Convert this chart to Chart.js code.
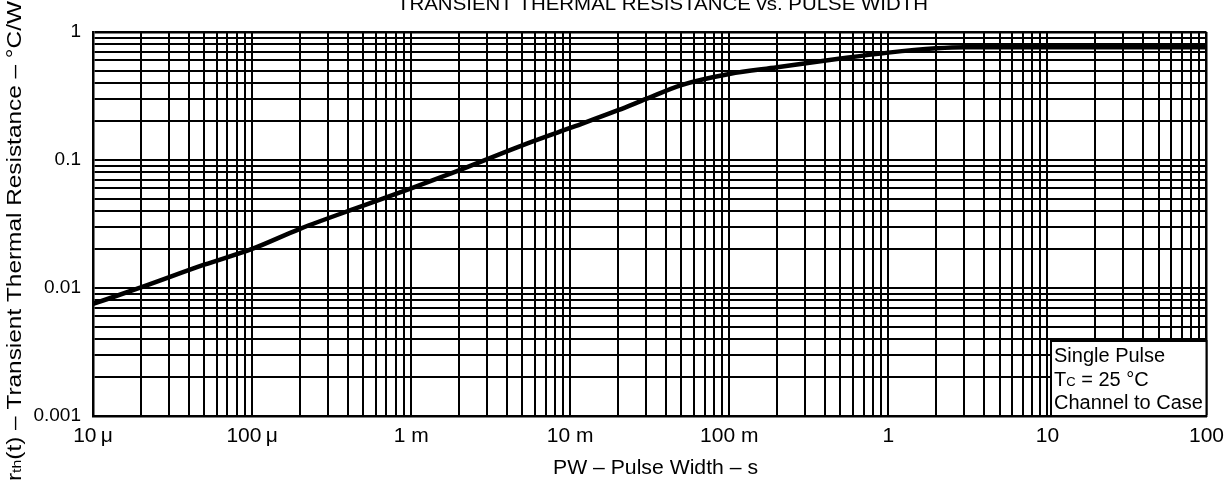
<!DOCTYPE html>
<html>
<head>
<meta charset="utf-8">
<script src="https://cdn.jsdelivr.net/npm/chart.js@4.4.1/dist/chart.umd.min.js"></script>
<style>
  body { margin: 0; background: #fff; }
  #wrap { width: 1232px; height: 490px; }
</style>
</head>
<body>
<div id="wrap"><canvas id="chart" width="1232" height="490"></canvas></div>
<script>
// decades + labels for the axes
const xDecades = [1e-5, 1e-4, 1e-3, 1e-2, 1e-1, 1, 10, 100];
const xTickLabels = ["10\u2009\u03bc", "100\u2009\u03bc", "1 m", "10 m", "100 m", "1", "10", "100"];
const yDecades = [0.001, 0.01, 0.1, 1];
const yTickLabels = ["0.001", "0.01", "0.1", "1"];

// curve (s, °C/W)
const pulseWidth = [1e-5, 2e-5, 5e-5, 1e-4, 2e-4, 5e-4, 1e-3, 2e-3, 5e-3, 1e-2, 2e-2, 3e-2, 5e-2, 1e-1, 2e-1, 5e-1, 1, 2, 3, 10, 100];
const rth = [0.0075, 0.0101, 0.0152, 0.0202, 0.029, 0.044, 0.060, 0.083, 0.130, 0.178, 0.245, 0.30, 0.385, 0.47, 0.53, 0.62, 0.69, 0.745, 0.76, 0.76, 0.76];

const noteLines = ["Single Pulse", "T|C| = 25 °C", "Channel to Case"];

const FONT = '"Liberation Sans", Arial, Helvetica, sans-serif';

// 1..9 x 10^n grid ticks
function logTicks(decades) {
  const out = [];
  for (let i = 0; i < decades.length - 1; i++) {
    for (let m = 1; m <= 9; m++) out.push({ value: Number((m * decades[i]).toPrecision(6)) });
  }
  out.push({ value: decades[decades.length - 1] });
  return out;
}

function decadeLabel(v, decades, labels) {
  const i = decades.findIndex(d => Math.abs(v / d - 1) < 1e-6);
  return i >= 0 ? labels[i] : "";
}

// fill text squeezed/stretched to a given width
function fitText(ctx, text, x, y, width) {
  const w = ctx.measureText(text).width;
  ctx.save();
  ctx.translate(x, y);
  ctx.scale(width / w, 1);
  ctx.fillText(text, 0, 0);
  ctx.restore();
}

const extras = {
  id: "extras",
  afterDraw(chart) {
    const ctx = chart.ctx;
    const area = chart.chartArea;
    ctx.save();
    ctx.fillStyle = "#000";

    // title (clipped at top like the scan)
    ctx.font = "19px " + FONT;
    ctx.textAlign = "left";
    ctx.textBaseline = "alphabetic";
    fitText(ctx, "TRANSIENT THERMAL RESISTANCE vs. PULSE WIDTH", 397, 10, 531);

    // x axis title
    ctx.font = "20px " + FONT;
    fitText(ctx, "PW \u2013 Pulse Width \u2013 s", 553, 474, 205);

    // y axis title, rotated
    ctx.save();
    ctx.translate(21, 481);
    ctx.rotate(-Math.PI / 2);
    const big = "20px " + FONT, small = "13px " + FONT;
    const rest = "(t) \u2013 Transient Thermal Resistance \u2013 \u00b0C/W";
    ctx.font = big; const wr = ctx.measureText("r").width;
    ctx.font = small; const wth = ctx.measureText("th").width;
    ctx.font = big; const wrest = ctx.measureText(rest).width;
    const sx = 480 / (wr + wth + wrest);
    ctx.scale(sx, 1);
    ctx.font = big; ctx.fillText("r", 0, 0);
    ctx.font = small; ctx.fillText("th", wr, 0);
    ctx.font = big; ctx.fillText(rest, wr + wth, 0);
    ctx.restore();

    // note box, bottom right
    const bx = 1051, by = 341;
    ctx.fillStyle = "#fff";
    ctx.fillRect(bx, by, area.right - bx, area.bottom - by);
    ctx.strokeStyle = "#000";
    ctx.lineWidth = 2;
    ctx.strokeRect(bx, by, area.right - bx, area.bottom - by);
    ctx.fillStyle = "#000";
    const baselines = [362, 386, 409];
    noteLines.forEach((line, i) => {
      let x = bx + 3;
      line.split("|").forEach((part, j) => {
        ctx.font = (j === 1 ? "13px " : "20px ") + FONT;
        ctx.fillText(part, x, baselines[i]);
        x += ctx.measureText(part).width;
      });
    });
    ctx.restore();
  }
};

const gridWidth = (max) => (c) => (c.tick && c.tick.value === max ? 2.5 : 2);

new Chart(document.getElementById("chart"), {
  type: "line",
  data: {
    datasets: [{
      data: pulseWidth.map((x, i) => ({ x: x, y: rth[i] })),
      borderColor: "#000",
      borderWidth: 4.5,
      pointRadius: 0,
      cubicInterpolationMode: "monotone",
      fill: false
    }]
  },
  options: {
    responsive: false,
    animation: false,
    devicePixelRatio: 1,
    layout: { padding: { left: 0, right: 22, top: 32, bottom: 0 } },
    plugins: { legend: { display: false }, tooltip: { enabled: false } },
    scales: {
      x: {
        type: "logarithmic",
        min: 1e-5,
        max: 100,
        afterBuildTicks: (s) => { s.ticks = logTicks(xDecades); },
        afterFit: (s) => { s.height = 74; },
        grid: { color: "#000", lineWidth: gridWidth(100), drawTicks: false },
        border: { display: true, color: "#000", width: 2.5 },
        ticks: {
          autoSkip: false,
          maxRotation: 0,
          padding: 8,
          color: "#000",
          font: { family: FONT, size: 21 },
          callback: (v) => decadeLabel(v, xDecades, xTickLabels)
        }
      },
      y: {
        type: "logarithmic",
        min: 0.001,
        max: 1,
        afterBuildTicks: (s) => { s.ticks = logTicks(yDecades); },
        afterFit: (s) => { s.width = 93; },
        grid: { color: "#000", lineWidth: gridWidth(1), drawTicks: false },
        border: { display: true, color: "#000", width: 2.5 },
        ticks: {
          autoSkip: false,
          padding: 12,
          color: "#000",
          font: { family: FONT, size: 19 },
          callback: (v) => decadeLabel(v, yDecades, yTickLabels)
        }
      }
    }
  },
  plugins: [extras]
});
</script>
</body>
</html>
